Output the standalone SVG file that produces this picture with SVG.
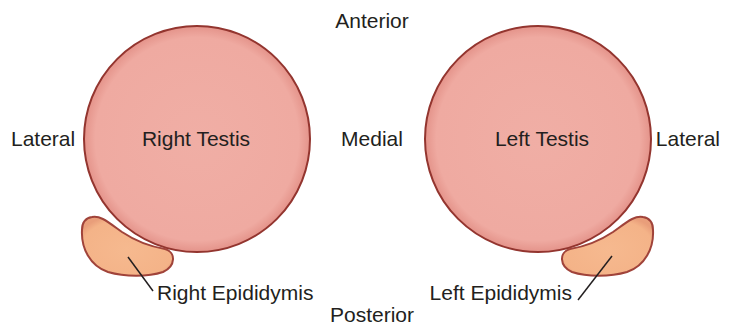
<svg xmlns="http://www.w3.org/2000/svg" width="729" height="325" viewBox="0 0 729 325">
  <defs>
    <radialGradient id="testisFill" cx="0.5" cy="0.5" r="0.5">
      <stop offset="0" stop-color="#f0aea5"/>
      <stop offset="0.9" stop-color="#efaaa1"/>
      <stop offset="1" stop-color="#e4938a"/>
    </radialGradient>
    <radialGradient id="epiFill" cx="0.5" cy="0.55" r="0.6">
      <stop offset="0" stop-color="#f6b98f"/>
      <stop offset="0.85" stop-color="#f4b388"/>
      <stop offset="1" stop-color="#e99e7a"/>
    </radialGradient>
    <!-- epididymis outline, drawn for the right side; the left one is its mirror -->
    <path id="epiShape" d="M 92 217 C 100 215 108 222 122 232 C 137 242 153 247 165 249 C 176 252 176 266 163 272 C 148 277 125 277 108 272 C 90 266 81 248 82 230 C 82 222 86 218 92 217 Z"/>
  </defs>
  <style>
    .testis { fill: url(#testisFill); stroke: #93352f; stroke-width: 2; }
    .epi { fill: url(#epiFill); stroke: #a0433a; stroke-width: 2; }
    .lbl { font-family: "Liberation Sans", Arial, sans-serif; font-size: 21px; fill: #231f20; }
    .leader { stroke: #231f20; stroke-width: 1.5; fill: none; }
  </style>

  <rect width="729" height="325" fill="#ffffff"/>

  <!-- orientation labels -->
  <g id="orientation">
    <text class="lbl" x="372" y="28" text-anchor="middle">Anterior</text>
    <text class="lbl" x="372" y="146" text-anchor="middle">Medial</text>
    <text class="lbl" x="372" y="322" text-anchor="middle">Posterior</text>
    <text class="lbl" x="11" y="146">Lateral</text>
    <text class="lbl" x="720" y="146" text-anchor="end">Lateral</text>
  </g>

  <g id="right-testis">
    <circle class="testis" cx="197" cy="139" r="113"/>
    <text class="lbl" x="196" y="146" text-anchor="middle">Right Testis</text>
  </g>

  <g id="left-testis">
    <circle class="testis" cx="538" cy="139" r="113"/>
    <text class="lbl" x="542" y="146" text-anchor="middle">Left Testis</text>
  </g>

  <g id="right-epididymis">
    <use href="#epiShape" class="epi"/>
    <text class="lbl" x="157" y="300">Right Epididymis</text>
  </g>

  <g id="left-epididymis">
    <use href="#epiShape" class="epi" transform="translate(735 0) scale(-1 1)"/>
    <text class="lbl" x="572" y="300" text-anchor="end">Left Epididymis</text>
  </g>

  <g id="connectors">
    <line class="leader" x1="128" y1="257" x2="153" y2="291"/>
    <line class="leader" x1="612" y1="256" x2="578" y2="300"/>
  </g>
</svg>
